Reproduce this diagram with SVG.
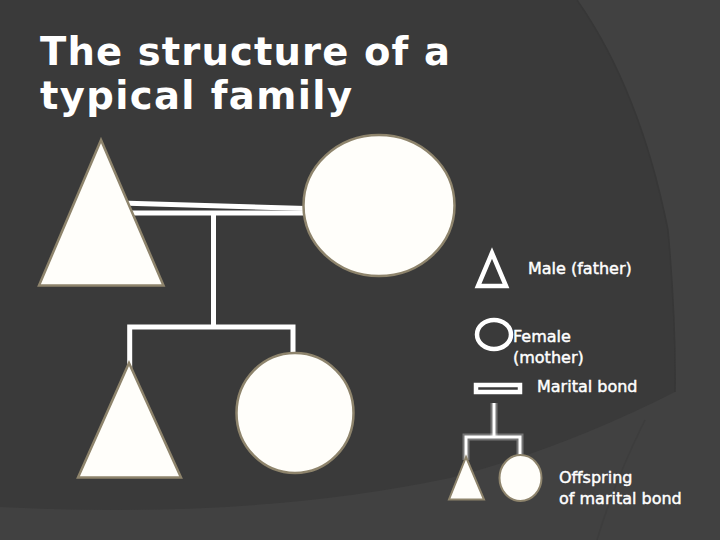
<svg xmlns="http://www.w3.org/2000/svg" width="720" height="540" viewBox="0 0 720 540">
  <style>
    .title { font-family: "DejaVu Sans", "Liberation Sans", sans-serif; font-weight: bold; font-size: 38.5px; fill: #ffffff; }
    .lbl { font-family: "DejaVu Sans", "Liberation Sans", sans-serif; font-size: 16px; fill: #ffffff; stroke: #ffffff; stroke-width: 0.45; }
    .shape { fill: #fffefa; stroke: #8e846c; stroke-width: 2.5; }
    .small { fill: #fffefa; stroke: #8e846c; stroke-width: 2; }
    .line { stroke: #ffffff; stroke-width: 5; fill: none; }
    .icon { fill: none; stroke: #ffffff; stroke-width: 4.5; }
    .glow { stroke: #ffffff; stroke-opacity: 0.3; stroke-width: 7; fill: none; }
    .gline { stroke: #ffffff; stroke-width: 3; fill: none; }
  </style>
  <g id="background">
    <rect x="0" y="0" width="720" height="540" fill="#3a3a3a"/>
    <path d="M577,0 Q640,90 668,230 Q676,320 675,392 Q560,450 450,478 Q250,520 0,507 L0,540 L720,540 L720,0 Z" fill="#414141"/>
    <path d="M577,0 Q640,90 668,230 Q676,320 675,392" fill="none" stroke="#373737" stroke-width="1.5"/>
    <path d="M597,540 Q615,480 645,420" fill="none" stroke="#3d3d3d" stroke-width="1.5"/>
  </g>
  <g id="title">
    <text class="title" x="40" y="64.5" textLength="410" lengthAdjust="spacing">The structure of a</text>
    <text class="title" x="40" y="109" textLength="312" lengthAdjust="spacing">typical family</text>
  </g>
  <g id="connectors">
    <line class="line" x1="120" y1="203" x2="306" y2="208.5" stroke-width="4.5"/>
    <line class="line" x1="122" y1="213" x2="306" y2="213" stroke-width="4"/>
    <line class="line" x1="213.5" y1="213" x2="213.5" y2="327"/>
    <polyline class="line" points="129.7,370 129.7,327 293,327 293,360"/>
  </g>
  <g id="father">
    <polygon class="shape" points="101,140 39,285.5 163.5,285.5"/>
  </g>
  <g id="mother">
    <ellipse class="shape" cx="379" cy="205.5" rx="75.5" ry="70.5"/>
  </g>
  <g id="son">
    <polygon class="shape" points="129,363 78,477.5 181,477.5"/>
  </g>
  <g id="daughter">
    <ellipse class="shape" cx="295" cy="413" rx="58.5" ry="60"/>
  </g>
  <g id="legend-male">
    <polygon class="icon" points="492,253 478,286 506,286"/>
    <text class="lbl" x="528" y="274">Male (father)</text>
  </g>
  <g id="legend-female">
    <ellipse class="icon" cx="494" cy="334.5" rx="17" ry="14.5"/>
    <text class="lbl" x="513" y="342">Female</text>
    <text class="lbl" x="513" y="363">(mother)</text>
  </g>
  <g id="legend-bond">
    <rect class="icon" x="476" y="385" width="44" height="7" stroke-width="4"/>
    <text class="lbl" x="537" y="392">Marital bond</text>
  </g>
  <g id="legend-offspring">
    <polyline class="glow" points="494,403 494,437"/>
    <polyline class="glow" points="466,460 466,437 520,437 520,458"/>
    <polyline class="gline" points="494,403 494,437"/>
    <polyline class="gline" points="466,460 466,437 520,437 520,458"/>
    <polygon class="small" points="466,457 449,499.5 484,499.5"/>
    <ellipse class="small" cx="520.5" cy="478" rx="21" ry="23"/>
    <text class="lbl" x="559" y="483">Offspring</text>
    <text class="lbl" x="559" y="504">of marital bond</text>
  </g>
</svg>
